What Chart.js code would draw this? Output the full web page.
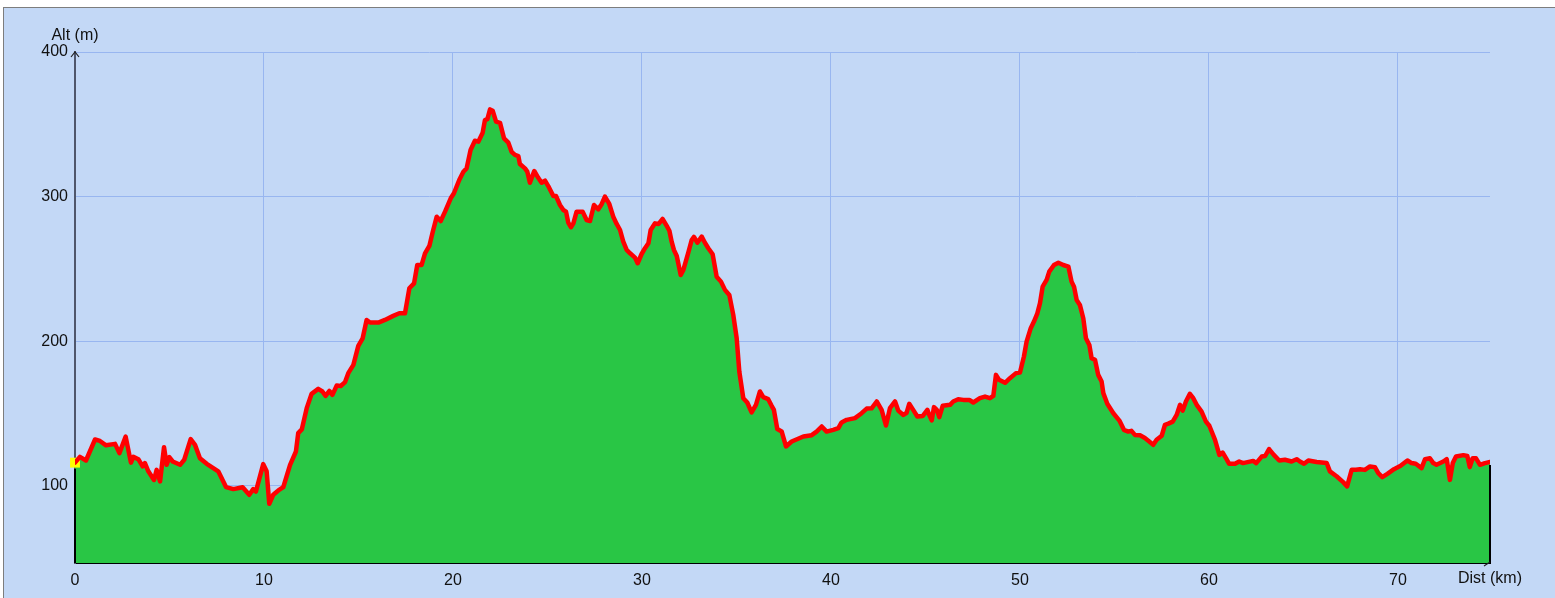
<!DOCTYPE html>
<html>
<head>
<meta charset="utf-8">
<script src="https://cdn.jsdelivr.net/npm/chart.js@4.4.0/dist/chart.umd.min.js"></script>
<style>
html,body{margin:0;padding:0;background:#fff;width:1555px;height:598px;overflow:hidden;}
#frame{position:absolute;left:3px;top:7px;width:1552px;height:591px;background:#c3d8f6;
  border-left:1px solid #7d7d7d;border-top:1px solid #7d7d7d;box-sizing:border-box;}
#profil{position:absolute;left:0;top:0;}
</style>
</head>
<body>
<div id="frame"></div>
<canvas id="profil" width="1555" height="598"></canvas>
<script>
// ===================== DONNEES DU PROFIL =====================
const distKm = [
  0.0,0.26,0.58,1.06,1.32,1.64,2.12,2.35,2.68,2.96,3.09,3.35,3.58,3.70,3.88,4.18,4.32,4.50,4.71,4.85,
  4.99,5.17,5.56,5.78,6.12,6.35,6.61,6.97,7.58,7.99,8.38,8.87,9.22,9.43,9.57,9.96,10.14,10.28,10.49,10.76,
  11.02,11.38,11.69,11.81,12.0,12.26,12.52,12.87,13.09,13.26,13.46,13.62,13.85,14.06,14.29,14.46,14.73,14.99,15.22,15.43,
  15.61,16.05,16.40,16.84,17.16,17.46,17.69,17.94,18.11,18.34,18.52,18.75,18.93,19.14,19.35,19.58,19.88,20.05,20.33,20.55,
  20.72,20.93,21.16,21.34,21.57,21.69,21.82,21.96,22.10,22.28,22.49,22.70,22.93,23.10,23.28,23.46,23.54,23.81,23.93,24.07,
  24.30,24.51,24.69,24.87,25.04,25.31,25.45,25.66,25.84,25.98,26.10,26.24,26.37,26.54,26.86,27.07,27.25,27.46,27.69,27.87,
  28.04,28.27,28.48,28.66,28.84,29.01,29.19,29.37,29.63,29.77,29.98,30.16,30.34,30.46,30.69,30.87,31.09,31.31,31.45,31.57,
  31.69,31.84,32.05,32.19,32.45,32.63,32.75,32.93,33.16,33.33,33.51,33.74,33.95,34.18,34.39,34.62,34.83,35.01,35.15,35.36,
  35.57,35.80,36.03,36.24,36.42,36.68,36.86,36.98,37.16,37.39,37.62,37.92,38.54,38.98,39.24,39.51,39.77,40.12,40.39,40.56,
  40.83,41.27,41.62,41.89,42.15,42.42,42.68,42.91,43.12,43.39,43.56,43.83,44.0,44.14,44.35,44.57,44.86,45.1,45.2,45.33,
  45.45,45.6,45.73,45.91,46.3,46.47,46.73,47.0,47.32,47.53,47.88,48.15,48.41,48.59,48.73,48.89,49.21,49.47,49.79,50.0,
  50.21,50.35,50.57,50.74,50.92,51.06,51.2,51.41,51.55,51.80,52.03,52.29,52.56,52.73,52.86,53.0,53.17,53.35,53.49,53.67,
  53.79,53.97,54.14,54.32,54.41,54.62,54.94,55.26,55.5,55.73,55.9,56.08,56.35,56.61,56.84,57.05,57.23,57.5,57.67,57.85,
  58.08,58.29,58.47,58.61,58.78,58.99,59.17,59.35,59.61,59.84,60.02,60.32,60.55,60.72,60.9,61.07,61.38,61.6,61.8,62.34,
  62.5,62.79,62.97,63.18,63.43,63.72,64.02,64.37,64.64,64.81,65.03,65.26,65.7,66.23,66.4,66.75,67.1,67.31,67.55,67.78,
  67.99,68.25,68.52,68.78,68.96,69.17,69.44,69.79,70.14,70.5,70.72,70.94,71.25,71.43,71.69,71.87,72.04,72.40,72.58,72.75,
  72.9,73.07,73.46,73.67,73.8,73.95,74.13,74.34,74.6,74.87
];
const altM = [
  116,120,117.5,132,131,128,129,122.6,134,116,120,118.4,113.4,115.7,110,104,111,103,126.7,114.5,
  119.8,116.8,114.5,118,132.3,128.3,119,115.2,110,99.1,97.7,99,93.8,97.7,96,115,110,87.6,93.8,96.8,
  99,114.5,123.7,136.4,139,153.7,163.6,167,165.2,162.2,165.6,162.9,169.3,169,171.7,177.9,183.6,196.8,202,214.7,
  212.9,212.9,214.7,217.5,219.3,219.3,236.6,240,252.7,252.7,260.8,265.9,275.7,286.1,283.1,289.6,298.8,302.3,311.5,317.2,
  319.5,332.2,338.6,338,344.2,352.9,353.6,360.3,359.4,351.8,351,340.3,337.3,331,328.8,328,322.5,319.5,317.3,309.6,
  317.7,313,309.6,311,307.3,300.4,300.4,294.2,290.7,289.6,282,278.8,281.5,289.6,289.6,283.8,283.1,294.2,291.2,294.9,
  300,294.9,286.1,281.1,276.9,268.8,263.1,260.8,257.8,253.9,260.3,264.3,267.7,276.9,281.5,281,284.5,279.7,276.4,268.8,
  263.1,258.9,245.8,249.3,261.2,270,272.1,268.1,272.3,268.1,264.3,260.1,244.6,241.2,235.5,232,218.2,202.1,179,160.6,
  157.6,150.7,156,165.2,161.3,159.9,155.3,152.5,139.2,137.6,127.2,130.6,134.1,135,137.5,141,137.5,138.7,139.9,143.8,
  145.6,146.8,150.2,153.4,153.6,158.3,152.5,141.7,153.7,158.3,152,149,150.5,156.7,152.5,147.9,148.3,152.5,149,145.2,
  154.4,152.5,147.5,155.3,156,158.3,159.9,159.4,159.4,157.6,160.6,161.7,160.6,162.2,176.7,173.3,171.2,174.4,177.9,178.3,
  189.4,199.7,209,213.6,219.3,226.3,237.7,242.4,248.1,252.7,254.3,252.7,251.6,241.2,237.7,228.5,225.1,215.9,202.1,197.4,
  188.2,187.1,176.7,172.1,164.1,156.7,150.2,145.1,138.7,137.5,138,135.2,134.9,133,130.6,128.3,131.8,134.6,142.2,143,
  144.4,149,156,152,158.3,163.6,160.6,156,151.3,144.4,141.5,131.8,121.4,123,119.1,115.2,115.2,116.8,115.7,117.2,
  115.7,120.2,120.6,125.4,121.4,117.5,118,116.8,118.4,116.8,115.2,117.5,116.4,115.7,110,106.6,102.5,99.6,111.1,111.1,
  111.5,111,113.4,112.9,108.7,106,108.3,111.5,113.8,117.5,115.7,115.2,112.2,118.4,119,115.7,114.5,116.8,118.4,104.1,
  115.7,120.2,121.2,120.6,112.9,119,119,114.5,115.7,116.4
];
const xTicks = [0,10,20,30,40,50,60,70];
const yTicks = [100,200,300,400];
const X_MAX = 74.87, Y_MIN = 46.6, Y_MAX = 400;

const FONT = "'Liberation Sans', Arial, sans-serif";
const points = distKm.map((d,i)=>({x:d, y:altM[i]}));

// fleche de l'axe Alt, bords noirs, titres d'axes
const profileDecor = {
  id:'profileDecor',
  afterDatasetsDraw(chart){
    const {ctx, chartArea:a, scales:{x, y}} = chart;
    ctx.save();
    ctx.strokeStyle = '#000'; ctx.lineWidth = 2;
    ctx.beginPath();
    ctx.moveTo(a.left, y.getPixelForValue(altM[0]) + 6); ctx.lineTo(a.left, a.bottom);
    const xe = x.getPixelForValue(distKm[distKm.length-1]);
    ctx.moveTo(xe, y.getPixelForValue(altM[altM.length-1]) + 3); ctx.lineTo(xe, a.bottom);
    ctx.stroke();
    // barre oblique en fin d'axe x
    ctx.lineWidth = 1.2; ctx.strokeStyle = '#222';
    ctx.beginPath(); ctx.moveTo(a.right-6, a.bottom+3); ctx.lineTo(a.right, a.bottom-1); ctx.stroke();
    // fleche en haut de l'axe y
    ctx.beginPath();
    ctx.moveTo(a.left-4, a.top+5); ctx.lineTo(a.left, a.top); ctx.lineTo(a.left+4, a.top+5);
    ctx.stroke();
    // titres
    ctx.fillStyle = '#111'; ctx.font = '16px ' + FONT;
    ctx.textAlign = 'center'; ctx.textBaseline = 'middle';
    ctx.fillText('Alt (m)', a.left, a.top - 16);
    ctx.fillText('Dist (km)', a.right, a.bottom + 16);
    ctx.restore();
  }
};

new Chart(document.getElementById('profil').getContext('2d'), {
  type:'line',
  data:{datasets:[
    {label:'Profil', data:points, borderColor:'#ff0000', borderWidth:4.5, fill:false,
     pointRadius:0, tension:0, borderJoinStyle:'round', borderCapStyle:'round'},
    {label:'Départ', data:[points[0]], showLine:false, pointStyle:'rect', pointRadius:7,
     pointBackgroundColor:'#ffff00', pointBorderWidth:0, clip:false},
    {label:'Sol', data:points, borderWidth:0, backgroundColor:'#29c645', fill:'start',
     pointRadius:0, tension:0}
  ]},
  options:{
    responsive:false, animation:false, events:[],
    layout:{padding:{top:52, right:65, left:0, bottom:0}},
    plugins:{legend:{display:false}, tooltip:{enabled:false}},
    scales:{
      x:{type:'linear', min:0, max:X_MAX,
         afterBuildTicks:s=>{ s.ticks = xTicks.map(v=>({value:v})); },
         afterFit:s=>{ s.height = 35; },
         grid:{color:'#98b6f0', lineWidth:1, drawTicks:false},
         border:{display:true, color:'#000', width:2},
         ticks:{padding:8, color:'#111', maxRotation:0, font:{family:FONT, size:16}}},
      y:{min:Y_MIN, max:Y_MAX,
         afterBuildTicks:s=>{ s.ticks = yTicks.map(v=>({value:v})); },
         afterFit:s=>{ s.width = 75; },
         grid:{color:'#98b6f0', lineWidth:1, drawTicks:false},
         border:{display:true, color:'#4f566b', width:2},
         ticks:{padding:7, color:'#111', font:{family:FONT, size:16}}}
    }
  },
  plugins:[profileDecor]
});
</script>
</body>
</html>
